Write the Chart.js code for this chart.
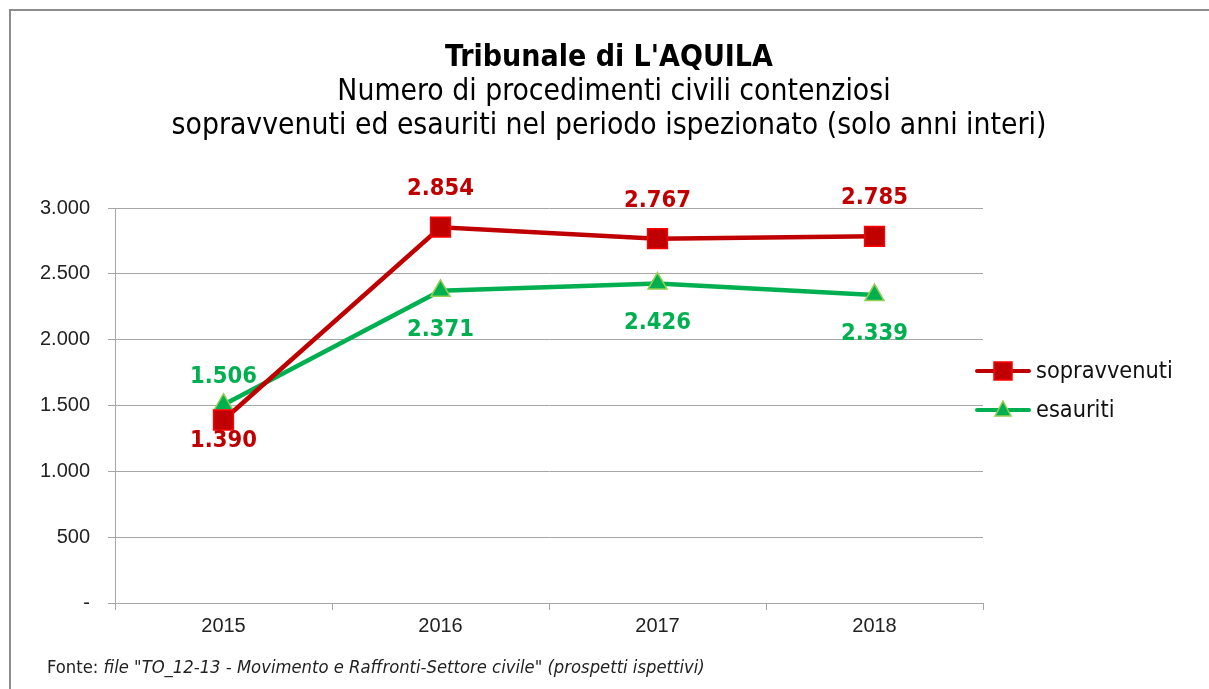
<!DOCTYPE html>
<html><head><meta charset="utf-8">
<script src="https://cdn.jsdelivr.net/npm/chart.js@4/dist/chart.umd.min.js"></script>
<style>html,body{margin:0;padding:0;background:#fff;overflow:hidden}#wrap{width:1209px;height:689px;position:relative}</style>
</head><body><div id="wrap"><canvas id="c" width="1209" height="689"></canvas></div>
<script>
const years = ['2015','2016','2017','2018'];
const sopravvenuti = [1390, 2854, 2767, 2785];
const esauriti = [1506, 2371, 2426, 2339];
const yTicks = [0, 500, 1000, 1500, 2000, 2500, 3000];
const seriesNames = ['sopravvenuti', 'esauriti'];
const titleLines = ["Tribunale di L'AQUILA", 'Numero di procedimenti civili contenziosi', 'sopravvenuti ed esauriti nel periodo ispezionato (solo anni interi)'];
const sourceLabel = 'Fonte: ';
const sourceText = 'file "TO_12-13 - Movimento e Raffronti-Settore civile" (prospetti ispettivi)';

const RED = '#C00000', RED_B = '#FF0000', GREEN = '#00B050', GREEN_B = '#92D050';
const UIFONT = '"DejaVu Sans Condensed","DejaVu Sans",sans-serif';
const AXFONT = '"Liberation Sans", Arial, sans-serif';

function fitSize(ctx, text, weight, style, family, target){
  ctx.font = `${style} ${weight} 100px ${family}`;
  const w = ctx.measureText(text).width;
  return 100 * target / w;
}
function fmt(v){ return v === 0 ? '-' : v.toLocaleString('de-DE'); }

const decor = {
  id: 'decor',
  beforeDraw(chart){
    const ctx = chart.ctx;
    ctx.save();
    ctx.fillStyle = '#fff'; ctx.fillRect(0,0,chart.width,chart.height);
    ctx.strokeStyle = '#8C8C8C'; ctx.lineWidth = 2;
    ctx.strokeRect(10, 10, 1300, 1000);
    ctx.restore();
  },
  afterDraw(chart){
    const ctx = chart.ctx;
    ctx.save();
    ctx.textAlign = 'center'; ctx.textBaseline = 'middle'; ctx.fillStyle = '#000';
    let s = fitSize(ctx, titleLines[0], 'bold', 'normal', UIFONT, 328);
    ctx.font = `bold ${s}px ${UIFONT}`; ctx.fillText(titleLines[0], 609, 58);
    s = fitSize(ctx, titleLines[2], 'normal', 'normal', UIFONT, 875);
    ctx.font = `normal ${s}px ${UIFONT}`;
    ctx.fillText(titleLines[1], 614, 92);
    ctx.fillText(titleLines[2], 609, 126);

    // data labels
    const cfg = [
      {idx:0, color: RED, place:['below','above','above','above'], up:-38, down:21},
      {idx:1, color: GREEN, place:['above','below','below','below'], up:-28, down:39}
    ];
    const ls = fitSize(ctx, '2.854', 'bold', 'normal', UIFONT, 67);
    ctx.font = `bold ${ls}px ${UIFONT}`;
    cfg.forEach(c => {
      const meta = chart.getDatasetMeta(c.idx);
      const data = chart.data.datasets[c.idx].data;
      meta.data.forEach((pt, i) => {
        ctx.fillStyle = c.color;
        const dy = c.place[i] === 'above' ? c.up : c.down;
        ctx.fillText(fmt(data[i]), pt.x, pt.y + dy);
      });
    });

    // legend
    const lgY = [371, 410];
    const ts = fitSize(ctx, seriesNames[0], 'normal', 'normal', UIFONT, 137);
    [0,1].forEach(k => {
      const ds = chart.data.datasets[k];
      const y = lgY[k];
      ctx.strokeStyle = ds.borderColor; ctx.lineWidth = 4; ctx.lineCap = 'round';
      ctx.beginPath(); ctx.moveTo(977, y); ctx.lineTo(1029, y); ctx.stroke();
      ctx.fillStyle = ds.pointBackgroundColor; ctx.strokeStyle = ds.pointBorderColor; ctx.lineWidth = 1.5;
      if (k === 0) { ctx.fillRect(994, y-9, 18, 18); ctx.strokeRect(994, y-9, 18, 18); }
      else { ctx.beginPath(); ctx.moveTo(1003, y-9); ctx.lineTo(1011, y+6); ctx.lineTo(995, y+6); ctx.closePath(); ctx.fill(); ctx.stroke(); }
      ctx.fillStyle = '#111'; ctx.textAlign = 'left';
      ctx.font = `normal ${ts}px ${UIFONT}`;
      ctx.fillText(seriesNames[k], 1036, y+1);
    });

    // source
    ctx.textAlign = 'left'; ctx.fillStyle = '#222';
    const fs = fitSize(ctx, sourceLabel + sourceText, 'normal', 'normal', UIFONT, 656);
    ctx.font = `normal ${fs}px ${UIFONT}`;
    ctx.fillText(sourceLabel, 47, 668);
    const w0 = ctx.measureText(sourceLabel).width;
    ctx.font = `italic ${fs}px ${UIFONT}`;
    ctx.fillText(sourceText, 47 + w0, 668);
    ctx.restore();
  }
};

new Chart(document.getElementById('c'), {
  type: 'line',
  data: {
    labels: years,
    datasets: [
      {label: seriesNames[0], data: sopravvenuti, borderColor: RED, borderWidth: 4.5,
       pointStyle: 'rect', pointRadius: 14, pointBackgroundColor: RED, pointBorderColor: RED_B, pointBorderWidth: 1.5, tension: 0},
      {label: seriesNames[1], data: esauriti, borderColor: GREEN, borderWidth: 4.5,
       pointStyle: 'triangle', pointRadius: 11, pointBackgroundColor: GREEN, pointBorderColor: GREEN_B, pointBorderWidth: 1.5, tension: 0}
    ]
  },
  options: {
    responsive: false, animation: false, devicePixelRatio: 1,
    layout: {padding: {top: 208, right: 226, left: 0, bottom: 0}},
    plugins: {legend: {display: false}, title: {display: false}, tooltip: {enabled: false}},
    scales: {
      x: {
        offset: true,
        grid: {display: true, drawOnChartArea: false, drawTicks: true, tickLength: 7, color: '#A6A6A6', offset: true},
        border: {display: true, color: '#A6A6A6', width: 1},
        ticks: {color: '#222', font: {family: AXFONT, size: 20}, padding: 4},
        afterFit(scale){ scale.height = 86; }
      },
      y: {
        min: 0, max: 3000,
        afterBuildTicks(scale){ scale.ticks = yTicks.map(v => ({value: v})); },
        grid: {color: '#A6A6A6', lineWidth: 1, drawTicks: true, tickLength: 7},
        border: {display: true, color: '#A6A6A6', width: 1},
        ticks: {color: '#222', font: {family: AXFONT, size: 20}, padding: 18,
                callback: v => fmt(v)},
        afterFit(scale){ scale.width = 115; }
      }
    }
  },
  plugins: [decor]
});
</script></body></html>
